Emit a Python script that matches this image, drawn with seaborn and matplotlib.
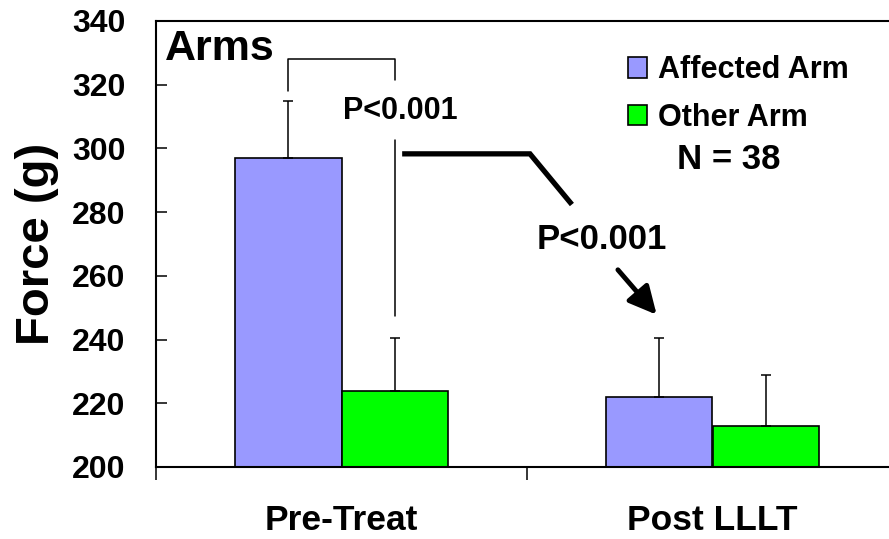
import matplotlib
matplotlib.use("Agg")
import matplotlib.pyplot as plt
from matplotlib.patches import Patch
import seaborn as sns
import pandas as pd

# ---- data ----
groups = ["Pre-Treat", "Post LLLT"]
arms = ["Affected Arm", "Other Arm"]
affected = [297.0, 222.0]
other = [224.0, 213.0]
affected_err = [17.8, 18.6]
other_err = [16.6, 16.0]
colors = {"Affected Arm": "#9999ff", "Other Arm": "#00ff00"}
yticks = [200, 220, 240, 260, 280, 300, 320, 340]
p_label = "P<0.001"
n_label = "N = 38"
panel_label = "Arms"

df = pd.DataFrame({
    "Group": groups * 2,
    "Arm": [arms[0]] * 2 + [arms[1]] * 2,
    "Force": affected + other,
    "Err": affected_err + other_err,
})

sns.set_theme(style="white")
plt.rcParams["font.family"] = ["Liberation Sans", "DejaVu Sans"]
plt.rcParams["font.weight"] = "bold"
for k in ["text.color", "axes.labelcolor", "xtick.color", "ytick.color",
          "axes.edgecolor"]:
    plt.rcParams[k] = "black"

W, H = 889, 539
fig = plt.figure(figsize=(W / 100, H / 100), dpi=100)
ax = fig.add_axes([156 / W, (H - 467) / H, 742 / W, 446 / H])

sns.barplot(data=df, x="Group", y="Force", hue="Arm", order=groups,
            hue_order=arms, palette=colors, width=0.574, dodge=True,
            edgecolor="black", linewidth=1.2, errorbar=None, ax=ax,
            legend=False, saturation=1)

# upper error bars
centers = {}
for arm, cont in zip(arms, ax.containers):
    errs = affected_err if arm == arms[0] else other_err
    xs = [b.get_x() + b.get_width() / 2 for b in cont]
    ys = [b.get_height() for b in cont]
    centers[arm] = xs
    ax.errorbar(xs, ys, yerr=[[0] * len(errs), errs], fmt="none",
                ecolor="black", elinewidth=1.1, capsize=3.8, capthick=1.1,
                zorder=1)

ax.set_ylim(200, 340)
ax.set_xlim(-0.5, 1.5)
ax.set_yticks(yticks)
ax.set_yticklabels([str(t) for t in yticks])
ax.set_xticks([0, 1])
ax.set_xticklabels(groups)
ax.set_xticks([-0.5, 0.5, 1.5], minor=True)
ax.tick_params(axis="y", direction="in", length=8, width=1.1, left=True,
               labelsize=23, pad=22, labelcolor="black", color="black")
ax.tick_params(axis="x", which="major", length=0, labelsize=25.5, pad=27,
               labelcolor="black")
ax.tick_params(axis="x", which="minor", direction="out", length=9,
               width=1.1, bottom=True, color="black")
for lab in ax.get_xticklabels() + ax.get_yticklabels():
    lab.set_fontweight("bold")
ax.set_xlabel("")
ax.set_ylabel("Force (g)", fontsize=34, fontweight="bold", labelpad=9,
              color="black")
for side in ["left", "top", "bottom", "right"]:
    ax.spines[side].set_visible(True)
    ax.spines[side].set_color("black")
    ax.spines[side].set_linewidth(1.5)

# bracket between pre-treat bars
xa = centers[arms[0]][0]
xo = centers[arms[1]][0]
ax.plot([xa, xa, xo, xo], [318, 328, 328, 321.5], color="black", lw=1.1,
        zorder=3)
ax.plot([xo, xo], [302.5, 247.4], color="black", lw=1.1, zorder=3)
ax.text(xo + 0.016, 311.9, p_label, ha="center", va="center", fontsize=22,
        fontweight="bold", color="black")

# thick connector and arrow
ax.plot([xo + 0.02, 0.508, 0.621], [298.3, 298.3, 282.4], color="black",
        lw=3.8, solid_capstyle="butt", solid_joinstyle="miter", zorder=3)
ax.text(0.701, 271.5, p_label, ha="center", va="center", fontsize=25,
        fontweight="bold", color="black")
ax.annotate("", xy=(centers[arms[0]][1] - 0.007, 247.8), xytext=(0.745, 261.9),
            arrowprops=dict(arrowstyle="-|>,head_length=1.4,head_width=0.7",
                            color="black", lw=3.5, shrinkA=0, shrinkB=0))

# legend
handles = [Patch(facecolor=colors[a], edgecolor="black", linewidth=1.2)
           for a in arms]
leg = ax.legend(handles, arms, loc="upper left",
                bbox_to_anchor=(628 / W, 1 - 55 / H),
                bbox_transform=fig.transFigure, frameon=False,
                prop=dict(size=22, weight="bold"), handlelength=0.62,
                handleheight=0.66, handletextpad=0.36, labelspacing=0.58,
                borderpad=0, borderaxespad=0)
for t in leg.get_texts():
    t.set_color("black")

ax.text(1.045, 296.6, n_label, ha="center", va="center", fontsize=25,
        fontweight="bold", color="black")
ax.text(0.012, (467 - 60) / 446, panel_label, transform=ax.transAxes,
        ha="left", va="baseline", fontsize=31, fontweight="bold",
        color="black")

fig.savefig("out.png", dpi=100)
